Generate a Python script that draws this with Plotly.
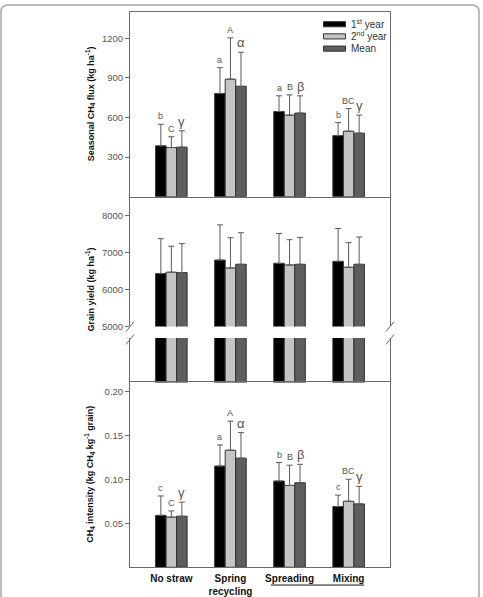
import plotly.graph_objects as go

# ---------------- data ----------------
categories = ["No straw", "Spring recycling", "Spreading", "Mixing"]
cat_ticktext = ["<b>No straw</b>", "<b>Spring<br>recycling</b>", "<b>Spreading</b>", "<b>Mixing</b>"]
series_names = ["1<sup>st</sup> year", "2<sup>nd</sup> year", "Mean"]

flux_y1 = [385, 782, 645, 462]
flux_y2 = [372, 890, 618, 496]
flux_mean = [375, 836, 633, 481]
flux_err_y1 = [163, 195, 119, 99]
flux_err_y2 = [82, 313, 153, 171]
flux_err_mean = [124, 258, 131, 137]

yield_y1 = [6425, 6790, 6702, 6755]
yield_y2 = [6463, 6577, 6657, 6596]
yield_mean = [6452, 6676, 6676, 6676]
yield_err_y1 = [942, 949, 806, 886]
yield_err_y2 = [699, 817, 683, 665]
yield_err_mean = [782, 851, 726, 736]

int_y1 = [0.059, 0.115, 0.098, 0.069]
int_y2 = [0.057, 0.133, 0.093, 0.075]
int_mean = [0.058, 0.124, 0.096, 0.072]
int_err_y1 = [0.022, 0.024, 0.021, 0.013]
int_err_y2 = [0.007, 0.033, 0.023, 0.025]
int_err_mean = [0.016, 0.029, 0.021, 0.020]

flux_letters = [["b", "a", "a", "b"], ["C", "A", "B", "BC"], ["γ", "α", "β", "γ"]]
int_letters = [["c", "a", "b", "c"], ["C", "A", "B", "BC"], ["γ", "α", "β", "γ"]]

flux_ticks = [300, 600, 900, 1200]
yield_ticks = [5000, 6000, 7000, 8000]
int_ticks = [0.05, 0.10, 0.15, 0.20]
int_ticktext = ["0.05", "0.10", "0.15", "0.20"]

# ---------------- style ----------------
W, H = 483, 597
colors = ["#000000", "#c4c4c4", "#5e5e5e"]
outline = "#333333"
errcol = "#5a5a5a"
axcol = "#6a6a6a"
FONT = "Liberation Sans, Arial"
tickfont = dict(family=FONT, size=9.5, color="#555555")
BARGAP = 0.466


def px(x):
    return x / W


def py(y):
    return 1 - y / H


XL, XR = 130, 390
panels = {
    1: (12, 199),
    2: (199, 330.3),
    3: (342, 387),
    4: (387, 574),
}

fig = go.Figure()
xs = list(range(len(categories)))

datasets = {
    1: ([flux_y1, flux_y2, flux_mean], [flux_err_y1, flux_err_y2, flux_err_mean]),
    2: ([yield_y1, yield_y2, yield_mean], [yield_err_y1, yield_err_y2, yield_err_mean]),
    3: ([yield_y1, yield_y2, yield_mean], [yield_err_y1, yield_err_y2, yield_err_mean]),
    4: ([int_y1, int_y2, int_mean], [int_err_y1, int_err_y2, int_err_mean]),
}

for p, (vals, errs) in datasets.items():
    xa = "x" if p == 1 else f"x{p}"
    ya = "y" if p == 1 else f"y{p}"
    for k in range(3):
        fig.add_trace(go.Bar(
            x=xs, y=vals[k], name=series_names[k], showlegend=False,
            marker=dict(color=colors[k], line=dict(color=outline, width=1)),
            error_y=dict(type="data", array=errs[k], arrayminus=[0] * 4,
                         symmetric=False, color=errcol, thickness=1, width=3,
                         visible=(p != 3)),
            xaxis=xa, yaxis=ya, cliponaxis=True, hoverinfo="skip",
        ))

layout = dict(
    width=W, height=H, margin=dict(l=0, r=0, t=0, b=0),
    paper_bgcolor="white", plot_bgcolor="white",
    barmode="group", bargap=BARGAP, bargroupgap=0,
    showlegend=False,
    font=dict(family=FONT),
)

for p, (top, bot) in panels.items():
    xk = "xaxis" if p == 1 else f"xaxis{p}"
    yk = "yaxis" if p == 1 else f"yaxis{p}"
    xa = "x" if p == 1 else f"x{p}"
    ya = "y" if p == 1 else f"y{p}"
    xax = dict(domain=[px(XL), px(XR)], range=[-0.7, 3.7], anchor=ya,
               showgrid=False, zeroline=False, ticks="",
               showline=(p in (1, 4)), mirror=True, linecolor=axcol, linewidth=1)
    if p == 4:
        xax.update(tickmode="array", tickvals=xs, ticktext=cat_ticktext, showticklabels=True,
                   ticklabelstandoff=2,
                   tickfont=dict(family=FONT, size=10, color="#111111"))
    else:
        xax.update(showticklabels=False, tickmode="array", tickvals=[])
    yax = dict(domain=[py(bot), py(top)], anchor=xa, showgrid=False, zeroline=False,
               showline=True, mirror=True, linecolor=axcol, linewidth=1,
               ticks="outside", ticklen=4, tickcolor=axcol, tickfont=tickfont)
    if p == 1:
        yax.update(range=[0, 1400], tickvals=flux_ticks)
    elif p == 2:
        yax.update(range=[5000, 8500], tickvals=yield_ticks)
    elif p == 3:
        yax.update(range=[0, 2000], showticklabels=False, ticks="", tickmode="array", tickvals=[])
    else:
        yax.update(range=[0, 0.21], tickvals=int_ticks, ticktext=int_ticktext)
    layout[xk] = xax
    layout[yk] = yax

annotations = []
shapes = []

# letters above error bars
w = 1 - BARGAP
offsets = [-w / 3, 0, w / 3]
for p, letters in ((1, flux_letters), (4, int_letters)):
    vals, errs = datasets[p]
    xa = "x" if p == 1 else f"x{p}"
    ya = "y" if p == 1 else f"y{p}"
    for k in range(3):
        for i in range(4):
            greek = k == 2
            annotations.append(dict(
                x=xs[i] + offsets[k], y=vals[k][i] + errs[k][i], xref=xa, yref=ya,
                text=letters[k][i], showarrow=False, xanchor="center", yanchor="bottom",
                yshift=0 if greek else 1,
                font=dict(family=FONT, size=13 if greek else 9, color="#555555"),
            ))

# y-axis titles
titles = [
    ("<b>Seasonal CH<sub>4</sub> flux (kg ha<sup>-1</sup>)</b>", (12 + 199) / 2),
    ("<b>Grain yield (kg ha<sup>-1</sup>)</b>", (199 + 387) / 2),
    ("<b>CH<sub>4</sub> intensity (kg CH<sub>4</sub> kg<sup>-1</sup> grain)</b>", (387 + 574) / 2),
]
for t, yc in titles:
    annotations.append(dict(x=px(90), y=py(yc), xref="paper", yref="paper", text=t,
                            showarrow=False, textangle=-90, xanchor="center", yanchor="middle",
                            font=dict(family=FONT, size=9, color="#111111")))

# legend (manual)
leg_rows = [24.5, 36.8, 49.2]
for k in range(3):
    yc = leg_rows[k]
    shapes.append(dict(type="rect", xref="paper", yref="paper",
                       x0=px(323.5), x1=px(345.5), y0=py(yc + 2.6), y1=py(yc - 2.6),
                       fillcolor=colors[k], line=dict(color=outline, width=1)))
    annotations.append(dict(x=px(348.5), y=py(yc), xref="paper", yref="paper",
                            text=series_names[k], showarrow=False, xanchor="left",
                            yanchor="middle",
                            font=dict(family=FONT, size=10, color="#333333")))

# axis break marks
for xb in (XL, XR):
    for yb in (330.5, 343.5):
        shapes.append(dict(type="line", xref="paper", yref="paper",
                           x0=px(xb - 4), y0=py(yb + 5), x1=px(xb + 4), y1=py(yb - 5),
                           line=dict(color=axcol, width=1)))

# underline under Spreading & Mixing
shapes.append(dict(type="line", xref="paper", yref="paper",
                   x0=px(271), x1=px(364), y0=py(592), y1=py(592),
                   line=dict(color="#111111", width=1)))

# outer rounded frame
r = 7
path = (f"M {px(1)},{py(605)} L {px(1)},{py(5 + r)} Q {px(1)},{py(5)} {px(1 + r)},{py(5)} "
        f"L {px(479 - r)},{py(5)} Q {px(479)},{py(5)} {px(479)},{py(5 + r)} "
        f"L {px(479)},{py(605)}")
shapes.append(dict(type="path", xref="paper", yref="paper", path=path,
                   line=dict(color="#a8a8a8", width=1.5)))

layout["annotations"] = annotations
layout["shapes"] = shapes
fig.update_layout(**layout)

fig.write_html("out.html")
